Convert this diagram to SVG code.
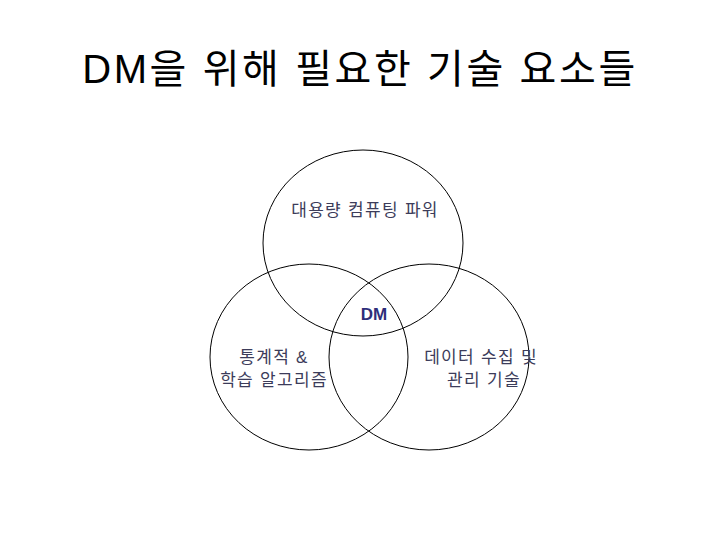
<svg xmlns="http://www.w3.org/2000/svg" width="720" height="540" viewBox="0 0 720 540">
<style>
.c{fill:none;stroke:#000;stroke-width:1}
.t{font-family:"Liberation Sans","Noto Sans CJK KR",sans-serif;font-size:17px;fill:#3c3c5a;text-anchor:middle;letter-spacing:1.3px}
.title{font-family:"Liberation Sans","Noto Sans CJK KR",sans-serif;font-size:40px;fill:#000;text-anchor:middle;letter-spacing:2.6px}
.dm{font-family:"Liberation Sans",sans-serif;font-size:17px;font-weight:bold;fill:#2e2e7a;text-anchor:middle}
</style>
<rect width="720" height="540" fill="#fff"/>
<text class="title" x="360" y="83">DM을 위해 필요한 기술 요소들</text>
<g id="computing">
<ellipse class="c" cx="363" cy="243" rx="100" ry="93"/>
<text class="t" x="365" y="216">대용량 컴퓨팅 파워</text>
</g>
<g id="statistics">
<ellipse class="c" cx="309" cy="357" rx="99" ry="93"/>
<text class="t" x="274" y="363">통계적 &amp;</text>
<text class="t" x="274" y="386">학습 알고리즘</text>
</g>
<g id="data">
<ellipse class="c" cx="429" cy="357" rx="100" ry="93"/>
<text class="t" x="481" y="363">데이터 수집 및</text>
<text class="t" x="484" y="386">관리 기술</text>
</g>
<g id="dm">
<text class="dm" x="374" y="320">DM</text>
</g>
<g id="connectors"></g>
</svg>
